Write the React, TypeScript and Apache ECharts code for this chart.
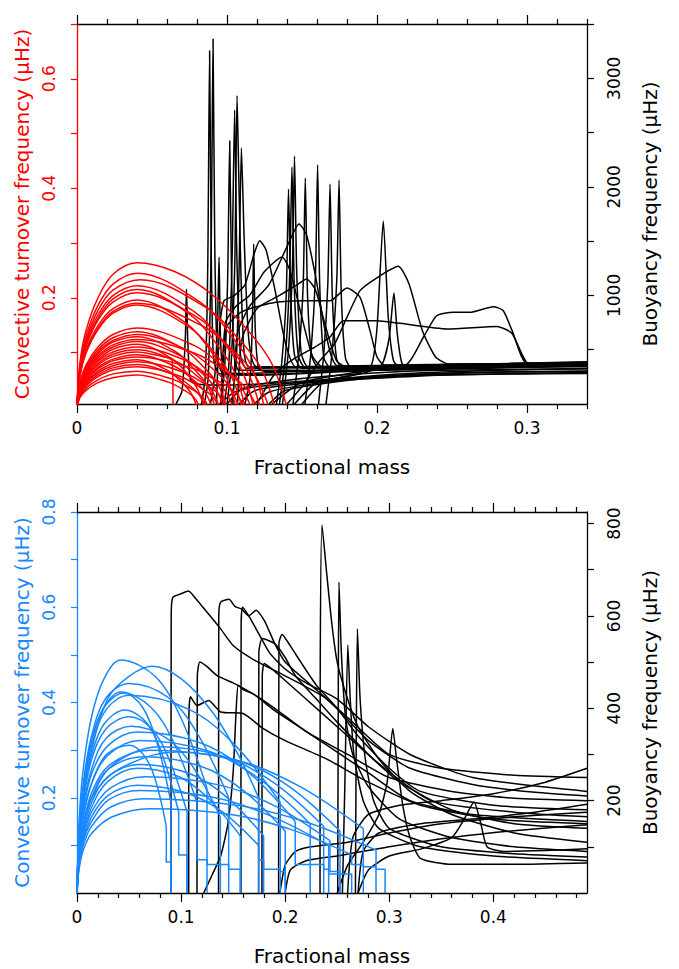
import React, { useEffect, useRef } from "react";
import * as echarts from "echarts";

const FONT = "DejaVu Sans";
const RED = "#ff0000";
const BLUE = "#1788ff";
const BLACK = "#000000";

// ---------- axis ticks / labels ----------
const topXMajor = [0, 0.1, 0.2, 0.3];
const topXMinor = [0.02, 0.04, 0.06, 0.08, 0.12, 0.14, 0.16, 0.18, 0.22, 0.24, 0.26, 0.28, 0.32, 0.34];
const topLeftTicks = [0.1, 0.2, 0.3, 0.4, 0.5, 0.6, 0.7];
const topLeftLabels = [0.2, 0.4, 0.6];
const topRightTicks = [500, 1000, 1500, 2000, 2500, 3000, 3500];
const topRightLabels = [1000, 2000, 3000];
const botXMajor = [0, 0.1, 0.2, 0.3, 0.4];
const botXMinor = [0.02, 0.04, 0.06, 0.08, 0.12, 0.14, 0.16, 0.18, 0.22, 0.24, 0.26, 0.28, 0.32, 0.34, 0.36, 0.38, 0.42, 0.44, 0.46, 0.48];
const botLeftTicks = [0.1, 0.2, 0.3, 0.4, 0.5, 0.6, 0.7, 0.8];
const botLeftLabels = [0.2, 0.4, 0.6, 0.8];
const botRightTicks = [100, 200, 300, 400, 500, 600, 700, 800];
const botRightLabels = [200, 400, 600, 800];

// ---------- top panel: convective turnover frequency (uHz), red ----------
const convTop: number[][][] = [
  [[0,0],[0.002,0.082],[0.006,0.14],[0.014,0.2],[0.024,0.243],[0.04,0.264],[0.065,0.248],[0.09,0.206],[0.115,0.137],[0.13,0.079],[0.14,0]],
  [[0,0],[0.002,0.076],[0.006,0.13],[0.014,0.186],[0.024,0.225],[0.04,0.245],[0.0825,0.191],[0.104,0.127],[0.1165,0.074],[0.125,0]],
  [[0,0],[0.002,0.072],[0.006,0.123],[0.014,0.177],[0.024,0.214],[0.042,0.233],[0.086,0.182],[0.109,0.121],[0.123,0.07],[0.132,0]],
  [[0,0],[0.002,0.069],[0.006,0.118],[0.014,0.169],[0.024,0.204],[0.04,0.222],[0.079,0.173],[0.0985,0.115],[0.11,0.067],[0.118,0]],
  [[0,0],[0.002,0.067],[0.006,0.114],[0.014,0.163],[0.024,0.198],[0.04,0.215],[0.076,0.168],[0.094,0.112],[0.105,0.065],[0.112,0]],
  [[0,0],[0.002,0.065],[0.006,0.111],[0.014,0.159],[0.024,0.192],[0.04,0.209],[0.081,0.163],[0.1015,0.109],[0.114,0.063],[0.122,0]],
  [[0,0],[0.002,0.061],[0.006,0.104],[0.014,0.149],[0.024,0.18],[0.04,0.196],[0.073,0.153],[0.0895,0.102],[0.099,0.059],[0.106,0]],
  [[0,0],[0.002,0.059],[0.006,0.101],[0.014,0.144],[0.024,0.175],[0.04,0.19],[0.084,0.148],[0.106,0.099],[0.119,0.057],[0.128,0]],
  [[0,0],[0.002,0.058],[0.006,0.099],[0.014,0.142],[0.024,0.172],[0.04,0.187],[0.075,0.146],[0.0925,0.097],[0.103,0.056],[0.11,0]],
  [[0,0],[0.002,0.045],[0.006,0.077],[0.014,0.11],[0.024,0.133],[0.04,0.145],[0.078,0.113],[0.097,0.075],[0.108,0.044],[0.116,0]],
  [[0,0],[0.002,0.043],[0.006,0.073],[0.014,0.105],[0.024,0.127],[0.04,0.138],[0.07,0.108],[0.085,0.072],[0.094,0.041],[0.1,0]],
  [[0,0],[0.002,0.041],[0.006,0.07],[0.014,0.101],[0.024,0.122],[0.04,0.133],[0.074,0.104],[0.091,0.069],[0.101,0.04],[0.108,0]],
  [[0,0],[0.002,0.04],[0.006,0.068],[0.014,0.098],[0.024,0.119],[0.04,0.129],[0.066,0.101],[0.079,0.067],[0.087,0.039],[0.092,0]],
  [[0,0],[0.002,0.038],[0.006,0.066],[0.014,0.094],[0.024,0.114],[0.04,0.124],[0.08,0.097],[0.1,0.064],[0.112,0.037],[0.12,0]],
  [[0,0],[0.002,0.037],[0.006,0.064],[0.014,0.091],[0.024,0.11],[0.04,0.12],[0.069,0.094],[0.0835,0.062],[0.092,0.036],[0.098,0]],
  [[0,0],[0.002,0.036],[0.006,0.061],[0.014,0.087],[0.024,0.106],[0.04,0.115],[0.0625,0.09],[0.074,0.06],[0.08,0.035],[0.085,0]],
  [[0,0],[0.002,0.034],[0.006,0.058],[0.014,0.084],[0.024,0.101],[0.04,0.11],[0.072,0.086],[0.088,0.057],[0.098,0.033],[0.104,0]],
  [[0,0],[0.002,0.033],[0.006,0.056],[0.014,0.08],[0.024,0.097],[0.04,0.105],[0.0675,0.082],[0.081,0.055],[0.0895,0.032],[0.095,0]],
  [[0,0],[0.002,0.031],[0.006,0.054],[0.014,0.077],[0.024,0.093],[0.04,0.101],[0.05,0.097],[0.058,0.092],[0.0635,0.086],[0.064,0]],
  [[0,0],[0.002,0.03],[0.006,0.051],[0.014,0.073],[0.024,0.088],[0.04,0.096],[0.065,0.075],[0.0775,0.05],[0.085,0.029],[0.09,0]],
  [[0,0],[0.002,0.029],[0.006,0.049],[0.014,0.07],[0.024,0.085],[0.04,0.092],[0.076,0.072],[0.094,0.048],[0.105,0.028],[0.112,0]],
  [[0,0],[0.002,0.027],[0.006,0.046],[0.014,0.066],[0.024,0.08],[0.04,0.087],[0.06,0.068],[0.07,0.045],[0.076,0.026],[0.08,0]],
  [[0,0],[0.002,0.026],[0.006,0.044],[0.014,0.063],[0.024,0.076],[0.04,0.083],[0.07,0.065],[0.085,0.043],[0.094,0.025],[0.1,0]],
  [[0,0],[0.002,0.024],[0.006,0.041],[0.014,0.059],[0.024,0.072],[0.04,0.078],[0.063,0.061],[0.0745,0.041],[0.0815,0.023],[0.086,0]],
  [[0,0],[0.002,0.023],[0.006,0.039],[0.014,0.056],[0.024,0.068],[0.04,0.074],[0.0675,0.058],[0.081,0.038],[0.0895,0.022],[0.095,0]],
  [[0,0],[0.002,0.02],[0.006,0.035],[0.014,0.05],[0.024,0.061],[0.04,0.066],[0.064,0.051],[0.076,0.034],[0.083,0.02],[0.088,0]],
  [[0,0],[0.002,0.018],[0.006,0.031],[0.014,0.045],[0.024,0.054],[0.04,0.059],[0.061,0.046],[0.0715,0.031],[0.078,0.018],[0.082,0]],
];

// ---------- top panel: buoyancy frequency (uHz), black ----------
const buoyTop: number[][][] = [
  [[0.066,0],[0.07,120],[0.0722,600],[0.073,1059],[0.0738,600],[0.0755,230],[0.08,185],[0.1,175],[0.13,190],[0.17,230],[0.22,280],[0.28,310],[0.34,330]],
  [[0.085,0],[0.0875,250],[0.0895,1500],[0.0907,3362],[0.0918,1500],[0.0935,450],[0.097,290],[0.12,270],[0.17,300],[0.25,330],[0.34,350]],
  [[0.083,0],[0.0855,250],[0.0872,1300],[0.0884,3254],[0.0895,1400],[0.091,420],[0.095,280],[0.12,265],[0.2,310],[0.34,345]],
  [[0.089,0],[0.092,280],[0.0938,800],[0.0947,1354],[0.0957,600],[0.098,300],[0.11,280],[0.18,320],[0.34,360]],
  [[0.096,0],[0.0985,350],[0.1005,1200],[0.1018,2425],[0.103,1200],[0.105,420],[0.108,310],[0.15,310],[0.34,370]],
  [[0.098,0],[0.101,300],[0.1035,1400],[0.1051,2708],[0.1065,1400],[0.109,450],[0.113,330],[0.2,340],[0.34,380]],
  [[0.1,0],[0.1025,300],[0.1052,1300],[0.1067,2840],[0.108,2000],[0.1105,700],[0.115,340],[0.2,345],[0.34,390]],
  [[0.103,0],[0.106,350],[0.108,1200],[0.1096,2358],[0.1115,1500],[0.1145,600],[0.12,340],[0.25,350],[0.34,372]],
  [[0.112,0],[0.1155,250],[0.117,800],[0.1178,1474],[0.1188,700],[0.121,330],[0.125,300],[0.34,360]],
  [[0.093,0],[0.095,700],[0.098,950],[0.105,1000],[0.112,1100],[0.118,1380],[0.1218,1504],[0.126,1420],[0.132,1050],[0.139,560],[0.146,340],[0.2,335],[0.34,380]],
  [[0.096,0],[0.099,750],[0.106,900],[0.115,1000],[0.125,1220],[0.1367,1354],[0.142,1230],[0.149,850],[0.157,440],[0.165,330],[0.34,372]],
  [[0.104,0],[0.107,650],[0.115,900],[0.128,1100],[0.14,1450],[0.148,1658],[0.153,1560],[0.159,1180],[0.166,640],[0.174,350],[0.34,382]],
  [[0.107,0],[0.11,600],[0.12,880],[0.135,1000],[0.147,1100],[0.153,1151],[0.159,1050],[0.166,700],[0.173,400],[0.18,340],[0.34,362]],
  [[0.133,0],[0.1365,380],[0.1395,1000],[0.141,1980],[0.1425,1000],[0.145,450],[0.15,330],[0.34,368]],
  [[0.135,0],[0.139,450],[0.1418,1200],[0.1433,2183],[0.1448,1100],[0.1475,450],[0.152,340],[0.34,378]],
  [[0.137,0],[0.141,500],[0.1437,1300],[0.145,2284],[0.1465,1200],[0.1495,470],[0.154,345],[0.34,374]],
  [[0.144,0],[0.148,480],[0.1508,1100],[0.1522,2081],[0.1537,1000],[0.1565,440],[0.161,340],[0.34,370]],
  [[0.152,0],[0.156,480],[0.159,1200],[0.1604,2204],[0.1618,1100],[0.1645,430],[0.169,335],[0.34,366]],
  [[0.161,0],[0.1645,460],[0.1672,1100],[0.1687,2026],[0.1702,1000],[0.173,420],[0.177,330],[0.34,362]],
  [[0.166,0],[0.17,470],[0.1732,1150],[0.1747,2063],[0.1762,1000],[0.179,420],[0.183,338],[0.34,370]],
  [[0.145,0],[0.16,200],[0.185,270],[0.196,350],[0.2,700],[0.2042,1685],[0.2075,800],[0.211,400],[0.216,330],[0.34,368]],
  [[0.15,0],[0.165,210],[0.19,280],[0.203,360],[0.208,600],[0.2113,1022],[0.2135,650],[0.2165,380],[0.221,330],[0.34,360]],
  [[0.14,0],[0.15,160],[0.162,400],[0.1717,553],[0.18,800],[0.1887,1044],[0.1987,1151],[0.2142,1268],[0.2213,1108],[0.2302,678],[0.2391,433],[0.248,368],[0.34,376]],
  [[0.097,0],[0.0995,700],[0.11,850],[0.13,930],[0.15,950],[0.1687,951],[0.18,1068],[0.1887,983],[0.1953,678],[0.2,433],[0.205,360],[0.34,384]],
  [[0.12,0],[0.132,280],[0.145,420],[0.158,520],[0.1687,617],[0.1776,767],[0.2,767],[0.214,745],[0.247,691],[0.28,714],[0.29,650],[0.302,360],[0.34,372]],
  [[0.13,0],[0.15,200],[0.19,300],[0.22,368],[0.231,617],[0.2398,813],[0.251,844],[0.262,844],[0.2776,896],[0.2842,859],[0.29,678],[0.3004,368],[0.34,378]],
  [[0.095,0],[0.105,110],[0.12,160],[0.15,200],[0.2,255],[0.26,290],[0.34,305]],
  [[0.108,0],[0.118,120],[0.135,165],[0.17,215],[0.22,260],[0.34,290]],
  [[0.118,0],[0.128,110],[0.145,160],[0.18,220],[0.25,270],[0.34,282]],
  [[0.128,0],[0.138,120],[0.16,180],[0.2,245],[0.27,290],[0.34,300]],
  [[0.1,0],[0.11,140],[0.13,200],[0.17,260],[0.24,310],[0.34,322]],
];

// ---------- bottom panel: convective turnover frequency (uHz), blue ----------
const convBot: number[][][] = [
  [[0,0],[0.002,0.15],[0.006,0.26],[0.014,0.37],[0.026,0.45],[0.042,0.489],[0.075,0.455],[0.1,0.367],[0.1249,0.22],[0.1249,0.06],[0.1377,0.06],[0.1377,0]],
  [[0,0],[0.002,0.11],[0.006,0.2],[0.014,0.3],[0.03,0.41],[0.05,0.455],[0.072,0.476],[0.1,0.45],[0.13,0.38],[0.155,0.29],[0.1745,0.2],[0.1745,0.07],[0.1793,0.07],[0.1793,0]],
  [[0,0],[0.002,0.13],[0.006,0.23],[0.014,0.33],[0.028,0.41],[0.05,0.44],[0.088,0.41],[0.117,0.33],[0.1457,0.2],[0.1457,0.05],[0.1569,0.05],[0.1569,0]],
  [[0,0],[0.002,0.13],[0.006,0.22],[0.014,0.32],[0.026,0.39],[0.042,0.422],[0.071,0.39],[0.093,0.316],[0.1153,0.19],[0.1153,0.07],[0.1249,0.07],[0.1249,0]],
  [[0,0],[0.002,0.12],[0.006,0.21],[0.014,0.31],[0.028,0.385],[0.05,0.415],[0.108,0.385],[0.152,0.31],[0.1953,0.19],[0.1953,0.045],[0.2001,0.045],[0.2001,0]],
  [[0,0],[0.002,0.12],[0.006,0.2],[0.014,0.29],[0.026,0.355],[0.046,0.384],[0.067,0.357],[0.082,0.29],[0.0977,0.17],[0.0977,0.08],[0.1057,0.08],[0.1057,0]],
  [[0,0],[0.002,0.1],[0.006,0.17],[0.014,0.25],[0.03,0.31],[0.058,0.338],[0.119,0.315],[0.164,0.255],[0.2097,0.15],[0.2097,0.06],[0.2241,0.06],[0.2241,0]],
  [[0,0],[0.002,0.09],[0.006,0.16],[0.014,0.23],[0.028,0.29],[0.05,0.31],[0.064,0.29],[0.075,0.24],[0.0858,0.14],[0.0858,0.065],[0.0903,0.065],[0.0903,0]],
  [[0,0],[0.002,0.08],[0.006,0.14],[0.014,0.2],[0.035,0.27],[0.08,0.307],[0.143,0.285],[0.19,0.23],[0.237,0.14],[0.237,0.05],[0.2418,0.05],[0.2418,0]],
  [[0,0],[0.002,0.08],[0.006,0.14],[0.014,0.2],[0.04,0.26],[0.095,0.296],[0.158,0.275],[0.205,0.222],[0.2527,0.13],[0.2527,0.04],[0.2639,0.04],[0.2639,0]],
  [[0,0],[0.002,0.08],[0.006,0.14],[0.014,0.21],[0.032,0.27],[0.07,0.3],[0.152,0.28],[0.213,0.225],[0.2751,0.135],[0.2751,0.055],[0.2873,0.055],[0.2873,0]],
  [[0,0],[0.002,0.08],[0.006,0.14],[0.014,0.2],[0.03,0.26],[0.065,0.286],[0.119,0.266],[0.16,0.215],[0.2001,0.13],[0.2001,0]],
  [[0,0],[0.002,0.07],[0.006,0.12],[0.014,0.18],[0.03,0.235],[0.058,0.262],[0.098,0.244],[0.127,0.197],[0.1569,0.12],[0.1569,0]],
  [[0,0],[0.002,0.07],[0.006,0.12],[0.014,0.17],[0.032,0.22],[0.065,0.244],[0.136,0.227],[0.19,0.183],[0.243,0.11],[0.243,0.045],[0.2527,0.045],[0.2527,0]],
  [[0,0],[0.002,0.06],[0.006,0.11],[0.014,0.16],[0.03,0.205],[0.058,0.226],[0.105,0.21],[0.14,0.17],[0.1745,0.1],[0.1745,0]],
  [[0,0],[0.002,0.055],[0.006,0.1],[0.014,0.14],[0.032,0.18],[0.065,0.198],[0.154,0.184],[0.22,0.149],[0.2873,0.09],[0.2873,0.05],[0.296,0.05],[0.296,0]],
  [[0,0],[0.002,0.05],[0.006,0.09],[0.014,0.125],[0.034,0.16],[0.07,0.177],[0.148,0.165],[0.206,0.133],[0.2639,0.08],[0.2639,0.06],[0.2751,0.06],[0.2751,0]],
  [[0,0],[0.002,0.11],[0.006,0.19],[0.014,0.28],[0.028,0.345],[0.05,0.37],[0.072,0.344],[0.089,0.278],[0.1057,0.17],[0.1057,0]],
  [[0,0],[0.002,0.1],[0.006,0.18],[0.014,0.26],[0.028,0.325],[0.052,0.35],[0.086,0.325],[0.112,0.263],[0.1377,0.16],[0.1377,0.06],[0.1457,0.06],[0.1457,0]],
  [[0,0],[0.002,0.09],[0.006,0.16],[0.014,0.23],[0.03,0.29],[0.06,0.32],[0.126,0.298],[0.175,0.24],[0.2241,0.145],[0.2241,0.06],[0.237,0.06],[0.237,0]],
  [[0,0],[0.002,0.08],[0.006,0.13],[0.014,0.19],[0.03,0.245],[0.06,0.27],[0.108,0.251],[0.143,0.203],[0.1793,0.12],[0.1793,0.05],[0.1953,0.05],[0.1953,0]],
  [[0,0],[0.002,0.06],[0.006,0.11],[0.014,0.15],[0.03,0.195],[0.06,0.215],[0.133,0.2],[0.187,0.161],[0.2418,0.1],[0.2418,0.04],[0.2527,0.04],[0.2527,0]],
  [[0,0],[0.002,0.13],[0.006,0.22],[0.014,0.32],[0.026,0.39],[0.045,0.42],[0.063,0.39],[0.077,0.315],[0.0903,0.19],[0.0903,0]],
];

// ---------- bottom panel: buoyancy frequency (uHz), black ----------
const buoyBot: number[][][] = [
  [[0.0903,0],[0.0905,600],[0.092,640],[0.1,648],[0.107,654],[0.115,635],[0.122,616],[0.138,572],[0.15,536],[0.17,505],[0.2,470],[0.24,420],[0.28,330],[0.32,270],[0.38,235],[0.44,218],[0.49,210]],
  [[0.136,0],[0.1362,600],[0.138,630],[0.146,636],[0.152,620],[0.158,615],[0.165,600],[0.172,612],[0.18,590],[0.19,540],[0.2,500],[0.23,440],[0.26,380],[0.3,300],[0.35,270],[0.42,255],[0.49,250]],
  [[0.1575,0],[0.1577,580],[0.159,619],[0.165,600],[0.175,560],[0.185,520],[0.2,485],[0.22,455],[0.25,420],[0.28,360],[0.32,300],[0.38,250],[0.49,220]],
  [[0.1073,0],[0.1075,380],[0.109,425],[0.1153,406],[0.1265,417],[0.138,392],[0.16,388],[0.179,356],[0.2,330],[0.24,290],[0.28,240],[0.33,190],[0.4,160],[0.49,150]],
  [[0.1153,0],[0.1156,470],[0.118,500],[0.125,490],[0.135,470],[0.15,455],[0.17,430],[0.19,400],[0.22,350],[0.26,300],[0.3,250],[0.36,220],[0.42,205],[0.49,200]],
  [[0.1217,0],[0.13,40],[0.138,80],[0.145,150],[0.15,260],[0.153,400],[0.155,450],[0.16,440],[0.17,430],[0.19,395],[0.21,365],[0.24,320],[0.28,260],[0.32,200],[0.38,170],[0.49,155]],
  [[0.1745,0],[0.1747,520],[0.178,551],[0.19,540],[0.2,510],[0.21,470],[0.23,420],[0.25,370],[0.28,300],[0.31,240],[0.36,180],[0.42,150],[0.49,140]],
  [[0.1937,0],[0.194,540],[0.197,560],[0.205,535],[0.215,500],[0.23,450],[0.25,400],[0.27,340],[0.3,270],[0.33,220],[0.4,190],[0.49,180]],
  [[0.1777,0],[0.178,470],[0.18,497],[0.19,480],[0.2,460],[0.22,420],[0.25,360],[0.29,280],[0.34,200],[0.42,175],[0.49,165]],
  [[0.2335,0],[0.2337,500],[0.2354,797],[0.24,690],[0.245,580],[0.25,500],[0.26,420],[0.27,360],[0.29,290],[0.32,220],[0.36,170],[0.42,130],[0.49,110]],
  [[0.2505,0],[0.251,400],[0.2517,673],[0.254,520],[0.258,380],[0.265,300],[0.28,230],[0.31,160],[0.36,120],[0.42,100],[0.49,90]],
  [[0.255,0],[0.2575,250],[0.2602,537],[0.2625,420],[0.266,300],[0.275,200],[0.29,140],[0.33,100],[0.4,80],[0.49,70]],
  [[0.2675,0],[0.2682,300],[0.2694,572],[0.272,420],[0.277,290],[0.285,200],[0.3,140],[0.35,100],[0.42,85],[0.49,78]],
  [[0.25,0],[0.26,60],[0.275,110],[0.29,170],[0.298,240],[0.3034,356],[0.307,290],[0.313,190],[0.32,120],[0.33,75],[0.36,62],[0.42,62],[0.49,65]],
  [[0.27,0],[0.28,50],[0.3,80],[0.33,95],[0.36,120],[0.372,160],[0.3814,197],[0.388,150],[0.394,100],[0.41,90],[0.45,92],[0.49,96]],
  [[0.26,0],[0.265,120],[0.28,170],[0.31,190],[0.35,200],[0.4,215],[0.45,240],[0.49,270]],
  [[0.27,0],[0.275,90],[0.29,130],[0.33,150],[0.38,160],[0.44,175],[0.49,192]],
  [[0.195,0],[0.2,60],[0.21,90],[0.225,100],[0.26,110],[0.3,130],[0.35,150],[0.42,165],[0.49,175]],
  [[0.2,0],[0.205,50],[0.22,70],[0.25,80],[0.3,100],[0.36,120],[0.42,135],[0.49,148]],
];

function splitCurve(pts: number[][]): number[][][] {
  for (let i = 0; i < pts.length - 1; i++) {
    if (pts[i][0] === pts[i + 1][0]) {
      return [pts.slice(0, i + 1), pts.slice(i)];
    }
  }
  return [pts];
}

function makeSeries(curves: number[][][], xIdx: number, yIdx: number, color: string, smooth: number) {
  const out: any[] = [];
  curves.forEach((c) => {
    const parts = splitCurve(c);
    parts.forEach((p, k) => {
      out.push({
        type: "line",
        xAxisIndex: xIdx,
        yAxisIndex: yIdx,
        data: p,
        showSymbol: false,
        symbol: "none",
        smooth: k === 0 ? smooth : false,
        silent: true,
        clip: true,
        lineStyle: { color, width: 1.5 },
        z: 2,
      });
    });
  });
  return out;
}

const tickStyle = { color: BLACK, width: 1.2 };
const plain = (v: number) => (v === 0 ? "0" : String(v));

function xAxesFor(grid: number, max: number, major: number[], minor: number[]) {
  const base = { gridIndex: grid, type: "value", min: 0, max, splitLine: { show: false } };
  return [
    {
      ...base,
      position: "bottom",
      axisLine: { show: true, onZero: false, lineStyle: { color: BLACK, width: 1.3 } },
      axisTick: { show: true, customValues: major, length: 9, lineStyle: tickStyle },
      axisLabel: {
        show: true,
        customValues: major,
        margin: 15,
        color: BLACK,
        fontSize: 17,
        fontFamily: FONT,
        formatter: plain,
      },
      name: "Fractional mass",
      nameLocation: "middle",
      nameGap: 53,
      nameTextStyle: { color: BLACK, fontSize: 20, fontFamily: FONT },
    },
    {
      ...base,
      position: "bottom",
      axisLine: { show: false, onZero: false },
      axisTick: { show: true, customValues: minor, length: 5, lineStyle: tickStyle },
      axisLabel: { show: false },
    },
    {
      ...base,
      position: "top",
      axisLine: { show: true, onZero: false, lineStyle: { color: BLACK, width: 1.3 } },
      axisTick: { show: true, customValues: major, length: 9, lineStyle: tickStyle },
      axisLabel: { show: false },
    },
    {
      ...base,
      position: "top",
      axisLine: { show: false, onZero: false },
      axisTick: { show: true, customValues: minor, length: 5, lineStyle: tickStyle },
      axisLabel: { show: false },
    },
  ];
}

function yAxesFor(
  grid: number,
  leftMin: number,
  leftMax: number,
  leftTicks: number[],
  leftLabels: number[],
  leftColor: string,
  rightMax: number,
  rightTicks: number[],
  rightLabels: number[]
) {
  return [
    {
      gridIndex: grid,
      type: "value",
      position: "left",
      min: leftMin,
      max: leftMax,
      splitLine: { show: false },
      axisLine: { show: true, onZero: false, lineStyle: { color: leftColor, width: 1.3 } },
      axisTick: { show: true, customValues: leftTicks, length: 6, lineStyle: { color: leftColor, width: 1.2 } },
      axisLabel: {
        show: true,
        customValues: leftLabels,
        rotate: 90,
        margin: 20,
        color: leftColor,
        fontSize: 17,
        fontFamily: FONT,
        formatter: plain,
      },
      name: "Convective turnover frequency (\u03bcHz)",
      nameLocation: "middle",
      nameRotate: 90,
      nameGap: 43,
      nameTextStyle: { color: leftColor, fontSize: 20, fontFamily: FONT },
    },
    {
      gridIndex: grid,
      type: "value",
      position: "right",
      min: 0,
      max: rightMax,
      splitLine: { show: false },
      axisLine: { show: true, onZero: false, lineStyle: { color: BLACK, width: 1.3 } },
      axisTick: { show: true, customValues: rightTicks, length: 7, lineStyle: tickStyle },
      axisLabel: {
        show: true,
        customValues: rightLabels,
        rotate: 90,
        margin: 18,
        color: BLACK,
        fontSize: 17,
        fontFamily: FONT,
        formatter: plain,
      },
      name: "Buoyancy frequency (\u03bcHz)",
      nameLocation: "middle",
      nameRotate: 90,
      nameGap: 53,
      nameTextStyle: { color: BLACK, fontSize: 20, fontFamily: FONT },
    },
  ];
}

export default function App() {
  const ref = useRef<HTMLDivElement>(null);
  useEffect(() => {
    if (!ref.current) return;
    const chart = echarts.init(ref.current, undefined, { renderer: "svg" });
    const option: any = {
      animation: false,
      backgroundColor: "#ffffff",
      textStyle: { fontFamily: FONT },
      grid: [
        { left: 77, top: 24, width: 510, height: 380, containLabel: false },
        { left: 77, top: 512, width: 510, height: 381, containLabel: false },
      ],
      xAxis: [...xAxesFor(0, 0.34, topXMajor, topXMinor), ...xAxesFor(1, 0.49, botXMajor, botXMinor)],
      yAxis: [
        ...yAxesFor(0, 0.006, 0.7, topLeftTicks, topLeftLabels, RED, 3500, topRightTicks, topRightLabels),
        ...yAxesFor(1, 0, 0.8, botLeftTicks, botLeftLabels, BLUE, 825, botRightTicks, botRightLabels),
      ],
      series: [
        ...makeSeries(buoyTop, 0, 1, BLACK, 0.2),
        ...makeSeries(convTop, 0, 0, RED, 0.35),
        ...makeSeries(buoyBot, 4, 3, BLACK, 0.2),
        ...makeSeries(convBot, 4, 2, BLUE, 0.35),
      ],
    };
    chart.setOption(option);
    return () => chart.dispose();
  }, []);
  return (
    <div
      ref={ref}
      style={{ position: "absolute", left: 0, top: 0, width: 679, height: 969, background: "#fff" }}
    />
  );
}
